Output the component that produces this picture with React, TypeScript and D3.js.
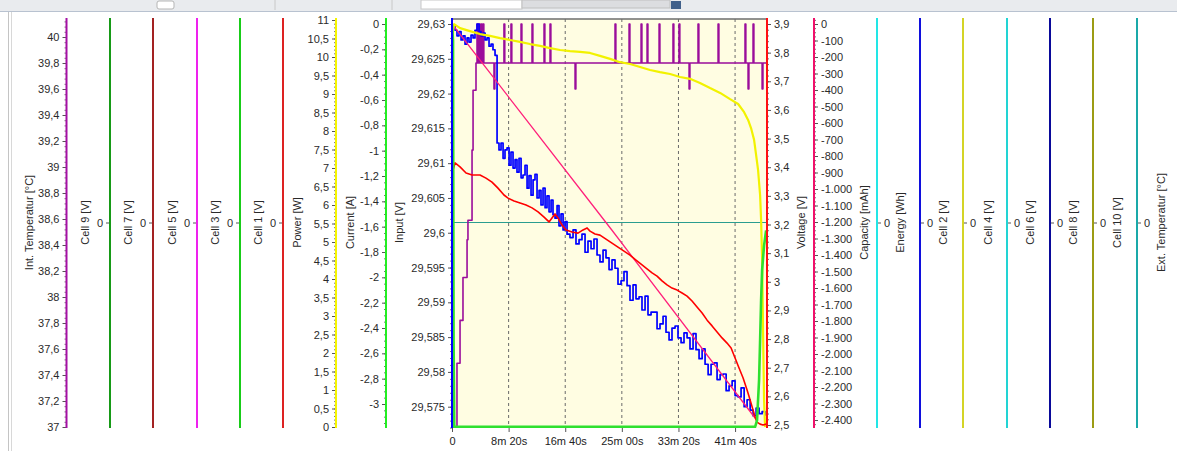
import {
    axisBottom,
    axisLeft,
    axisRight,
    curveStepAfter,
    curveLinear,
    formatLocale,
    line,
    range,
    scaleLinear,
    select,
} from "d3";
import React, { useEffect, useRef } from "react";

// time axis (seconds)
const timeTicks = [0, 500, 1000, 1500, 2000, 2500];
const timeLabels = ["0", "8m 20s", "16m 40s", "25m 00s", "33m 20s", "41m 40s"];

// tick values of the value axes
const tempTicks = [37, 37.2, 37.4, 37.6, 37.8, 38, 38.2, 38.4, 38.6, 38.8, 39, 39.2, 39.4, 39.6, 39.8, 40];
const powerTicks = [0, 0.5, 1, 1.5, 2, 2.5, 3, 3.5, 4, 4.5, 5, 5.5, 6, 6.5, 7, 7.5, 8, 8.5, 9, 9.5, 10, 10.5, 11];
const currentTicks = [0, -0.2, -0.4, -0.6, -0.8, -1, -1.2, -1.4, -1.6, -1.8, -2, -2.2, -2.4, -2.6, -2.8, -3];
const inputTicks = [29.575, 29.58, 29.585, 29.59, 29.595, 29.6, 29.605, 29.61, 29.615, 29.62, 29.625, 29.63];
const voltageTicks = [2.5, 2.6, 2.7, 2.8, 2.9, 3, 3.1, 3.2, 3.3, 3.4, 3.5, 3.6, 3.7, 3.8, 3.9];
const capacityTicks = [
    0, -100, -200, -300, -400, -500, -600, -700, -800, -900, -1000, -1100, -1200,
    -1300, -1400, -1500, -1600, -1700, -1800, -1900, -2000, -2100, -2200, -2300, -2400,
];
const zeroTicks = [0];

// Input [V] (blue)
const inputTime = [
    0, 9, 27, 44, 62, 80, 97, 115, 133, 150, 168, 186, 203, 221, 239, 256, 274, 292, 309, 327,
    345, 362, 380, 398, 415, 433, 451, 468, 486, 504, 521, 539, 557, 574, 592, 610, 627, 645, 663, 680,
    698, 716, 733, 751, 769, 786, 804, 822, 839, 857, 875, 892, 910, 928, 945, 963, 981, 998, 1016,
    1042, 1069, 1095, 1122, 1148, 1175, 1201, 1228, 1254, 1281, 1307, 1334, 1360, 1387, 1413, 1440, 1466,
    1493, 1519, 1546, 1572, 1599, 1625, 1652, 1678, 1705, 1731, 1758, 1784, 1811, 1837, 1864, 1890, 1917,
    1943, 1970, 1996, 2023, 2049, 2076, 2102, 2129, 2155, 2182, 2209, 2235, 2262, 2288, 2315, 2341, 2368,
    2394, 2421, 2447, 2474, 2500, 2527, 2553, 2580, 2606, 2633, 2659, 2686, 2712, 2739, 2765,
];
const inputVolts = [
    29.6297, 29.6297, 29.6291, 29.6283, 29.6289, 29.6277, 29.6283, 29.6271, 29.628, 29.6274,
    29.6284, 29.628, 29.6291, 29.63, 29.6289, 29.6283, 29.6287, 29.6277, 29.628, 29.6268,
    29.6271, 29.6263, 29.6255,
    29.6129, 29.6119, 29.6129, 29.6107, 29.6119, 29.6122, 29.6097, 29.6116, 29.6093, 29.6105,
    29.6087, 29.6107, 29.6079, 29.6083, 29.6097, 29.6064, 29.6082, 29.6054, 29.6076, 29.6084,
    29.605, 29.6061, 29.604, 29.6064, 29.6036, 29.6053, 29.603, 29.6047, 29.6026, 29.6021,
    29.6039, 29.601, 29.6027, 29.6004, 29.6016, 29.5998,
    29.5993, 29.6004, 29.5984, 29.599, 29.5998, 29.5972, 29.5988, 29.5977, 29.5991, 29.5968,
    29.5958, 29.5975, 29.5964, 29.5947, 29.5961, 29.5949, 29.5926, 29.5931, 29.5944, 29.5924,
    29.5903, 29.5925, 29.5905, 29.5908, 29.5889, 29.5909, 29.5882, 29.5886, 29.5886, 29.5862,
    29.5869, 29.588, 29.5857, 29.5846, 29.5863, 29.5866, 29.5849, 29.5842, 29.5856, 29.5849,
    29.5833, 29.5855, 29.5832, 29.5819, 29.5833, 29.5811, 29.5796, 29.5811, 29.5813, 29.5789,
    29.5796, 29.5797, 29.5773, 29.578, 29.5787, 29.5766, 29.5764, 29.5777, 29.575, 29.576,
    29.5745, 29.5737, 29.5748, 29.574, 29.5743, 29.5737,
];

// Voltage [V] (red)
const voltageTime = [
    9, 27, 71, 124, 177, 247, 300, 353, 406, 459, 495, 548, 601, 654, 707, 760, 813, 857, 883, 910,
    936, 972, 1007, 1060, 1113, 1157, 1193, 1219, 1263, 1307, 1360, 1413, 1466, 1519, 1572, 1625, 1670,
    1714, 1767, 1811, 1855, 1899, 1943, 1988, 2032, 2076, 2120, 2164, 2209, 2253, 2297, 2341, 2385,
    2429, 2465, 2500, 2535, 2571, 2606, 2633, 2659, 2677, 2694, 2721, 2747, 2774,
];
const voltageVals = [
    3.39, 3.415, 3.401, 3.38, 3.373, 3.373, 3.362, 3.348, 3.327, 3.303, 3.292, 3.282, 3.275, 3.268,
    3.258, 3.244, 3.226, 3.209, 3.223, 3.237, 3.223, 3.198, 3.181, 3.174, 3.17, 3.181, 3.188, 3.177,
    3.167, 3.163, 3.149, 3.135, 3.121, 3.107, 3.093, 3.076, 3.062, 3.048, 3.031, 3.02, 3.003, 2.989,
    2.978, 2.971, 2.961, 2.95, 2.933, 2.912, 2.891, 2.866, 2.846, 2.825, 2.804, 2.786, 2.769, 2.734,
    2.699, 2.664, 2.622, 2.587, 2.552, 2.528, 2.51, 2.503, 2.5, 2.503,
];

// Power [W] (yellow)
const powerTime = [
    0, 9, 18, 71, 159, 247, 336, 424, 512, 601, 689, 777, 866, 954, 1042, 1131, 1219, 1307, 1396, 1484,
    1572, 1661, 1749, 1837, 1926, 2014, 2102, 2190, 2279, 2368, 2456, 2527, 2580, 2615, 2641, 2668, 2686,
    2703, 2721, 2730, 2739, 2747, 2756, 2765,
];
const powerVals = [
    0, 10.73, 10.89, 10.78, 10.7, 10.62, 10.57, 10.51, 10.46, 10.41, 10.35, 10.3, 10.24, 10.19, 10.16,
    10.14, 10.11, 10.03, 9.95, 9.86, 9.81, 9.73, 9.65, 9.59, 9.54, 9.46, 9.41, 9.3, 9.16, 9.03, 8.86,
    8.73, 8.51, 8.3, 8.08, 7.76, 7.35, 6.95, 6.27, 5.59, 4.51, 2.62, 0.73, 0,
];

// Int. Temperatur [°C] (purple)
const tempTime = [
    0, 9, 44, 71, 97, 133, 141, 177, 186, 212,
    221, 228, 239, 246, 256, 263, 274, 281, 371, 378,
    459, 466, 521, 528, 610, 617, 707, 714, 813, 820,
    866, 873, 1087, 1094, 1440, 1447, 1564, 1571, 1670, 1677,
    1723, 1730, 1829, 1836, 1952, 1959, 2005, 2012, 2094, 2101,
    2173, 2180, 2350, 2357, 2588, 2595, 2615, 2622, 2659, 2666,
    2739, 2746, 2782,
];
const tempVals = [
    37, 37, 37.49, 37.82, 38.15, 38.44, 38.59, 39.13, 39.59, 39.8,
    40.1, 39.8, 40.1, 39.8, 40.1, 39.8, 40.1, 39.8, 39.6, 39.8,
    40.1, 39.8, 40.1, 39.8, 40.1, 39.8, 40.1, 39.8, 40.1, 39.8,
    40.1, 39.8, 39.6, 39.8, 40.1, 39.8, 40.1, 39.8, 40.1, 39.8,
    40.1, 39.8, 40.1, 39.8, 40.1, 39.8, 40.1, 39.8, 39.6, 39.8,
    40.1, 39.8, 40.1, 39.8, 40.1, 39.8, 39.6, 39.8, 40.1, 39.8,
    39.6, 39.8, 39.8,
];

// Current [A] (green)
const currentTime = [0, 9, 14, 20, 2677, 2694, 2712, 2721, 2730, 2739, 2756, 2774];
const currentVals = [0, -0.13, -2.5, -3.18, -3.18, -3.13, -2.81, -2.5, -2.18, -1.94, -1.75, -1.63];

// Capacity [mAh] (pink)
const capacityTime = [0, 1413, 2690];
const capacityVals = [0, -1250, -2400];

// Ext. Temperatur [°C] (teal)
const extTime = [0, 2782];
const extVals = [0, 0];

const FONT = "'Liberation Sans', Arial, sans-serif";
const TOP = 18;
const BOTTOM = 428;

const de = formatLocale({
    decimal: ",",
    thousands: ".",
    grouping: [3],
    currency: ["", " €"],
    minus: "-",
});
const fmt = de.format(",~f");

const Chart: React.FC = () => {
    const svgRef = useRef<SVGSVGElement>(null);

    useEffect(() => {
        const svg = select(svgRef.current);
        svg.selectAll("*").remove();

        const plot = { left: 452, right: 767, top: 19, bottom: 428 };

        // window chrome at the top
        svg.append("rect").attr("x", 0).attr("y", 0).attr("width", 1177).attr("height", 11).attr("fill", "#e9ebee");
        svg.append("rect").attr("x", 157).attr("y", 1).attr("width", 17).attr("height", 8).attr("rx", 2)
            .attr("fill", "#fff").attr("stroke", "#b5b5b5");
        svg.append("line").attr("x1", 275).attr("x2", 275).attr("y1", 0).attr("y2", 10).attr("stroke", "#c8c8c8");
        svg.append("line").attr("x1", 392).attr("x2", 392).attr("y1", 0).attr("y2", 10).attr("stroke", "#c8c8c8");
        svg.append("rect").attr("x", 421).attr("y", 0).attr("width", 101).attr("height", 9).attr("fill", "#fff")
            .attr("stroke", "#c8c8c8");
        svg.append("rect").attr("x", 522).attr("y", 0).attr("width", 148).attr("height", 8).attr("fill", "#dcdde0")
            .attr("stroke", "#c0c0c0");
        svg.append("rect").attr("x", 671).attr("y", 1).attr("width", 10).attr("height", 8).attr("fill", "#41608a");
        svg.append("line").attr("x1", 0).attr("x2", 1177).attr("y1", 11.5).attr("y2", 11.5).attr("stroke", "#b8c2d0");
        svg.append("line").attr("x1", 8.5).attr("x2", 8.5).attr("y1", 12).attr("y2", 451).attr("stroke", "#c4c4c4");
        svg.append("line").attr("x1", 11.5).attr("x2", 11.5).attr("y1", 12).attr("y2", 451).attr("stroke", "#d8d8d8");

        const x = scaleLinear().domain([0, 2782]).range([plot.left, plot.right]);

        const yTemp = scaleLinear().domain([37, 40]).range([427, 37]);
        const yPower = scaleLinear().domain([0, 11]).range([427, 20]);
        const yCurrent = scaleLinear().domain([-3, 0]).range([404, 24]);
        const yInput = scaleLinear().domain([29.575, 29.63]).range([406.7, 24]);
        const yVoltage = scaleLinear().domain([2.5, 3.9]).range([425, 24]);
        const yCapacity = scaleLinear().domain([-2400, 0]).range([420, 24]);
        const yZero = scaleLinear().domain([-1, 1]).range([427, 18]);

        // plot background
        svg.append("rect")
            .attr("x", plot.left).attr("y", plot.top)
            .attr("width", plot.right - plot.left).attr("height", plot.bottom - plot.top)
            .attr("fill", "#fffde2");

        svg.append("defs").append("clipPath").attr("id", "plotclip")
            .append("rect")
            .attr("x", plot.left).attr("y", plot.top)
            .attr("width", plot.right - plot.left).attr("height", plot.bottom - plot.top);

        // dashed time grid
        svg.append("g")
            .selectAll("line")
            .data(timeTicks.filter(t => t > 0))
            .enter()
            .append("line")
            .attr("x1", d => x(d)).attr("x2", d => x(d))
            .attr("y1", plot.top).attr("y2", plot.bottom)
            .attr("stroke", "#6a6a6a")
            .attr("stroke-dasharray", "3,3");

        svg.append("line")
            .attr("x1", plot.left).attr("x2", plot.right)
            .attr("y1", plot.top).attr("y2", plot.top)
            .attr("stroke", "#6d6d6d").attr("stroke-width", 1.5);

        const data = svg.append("g").attr("clip-path", "url(#plotclip)");

        const series = (
            times: number[],
            vals: number[],
            y: any,
            color: string,
            width: number,
            curve: any,
        ) => {
            const gen = line<number>()
                .x((_, i) => x(times[i]))
                .y(d => y(d))
                .curve(curve);
            data.append("path")
                .datum(vals)
                .attr("fill", "none")
                .attr("stroke", color)
                .attr("stroke-width", width)
                .attr("stroke-linejoin", "round")
                .attr("d", gen as any);
        };

        series(extTime, extVals, yZero, "#2a9d8f", 1.2, curveLinear);
        series(tempTime, tempVals, yTemp, "#9b0d9b", 1.6, curveStepAfter);
        series(inputTime, inputVolts, yInput, "#0000ff", 1.7, curveStepAfter);
        series(capacityTime, capacityVals, yCapacity, "#ff1f7a", 1.3, curveLinear);
        series(powerTime, powerVals, yPower, "#f2f200", 2.2, curveLinear);
        series(voltageTime, voltageVals, yVoltage, "#ff0000", 1.6, curveLinear);
        series(currentTime, currentVals, yCurrent, "#2fe02f", 2.6, curveLinear);

        // time axis
        svg.append("g")
            .attr("transform", `translate(0,${plot.bottom})`)
            .call(
                axisBottom(x)
                    .tickValues(timeTicks)
                    .tickSize(4)
                    .tickPadding(5)
                    .tickFormat((_, i) => timeLabels[i]),
            )
            .call(g => g.select(".domain").remove())
            .call(g => g.selectAll(".tick line").attr("stroke", "#555"))
            .call(g => g.selectAll(".tick text").attr("fill", "#222"))
            .attr("font-family", FONT)
            .attr("font-size", 11);

        const drawAxis = (
            ax: number,
            scale: any,
            side: "left" | "right",
            color: string,
            ticks: number[],
            minor: number[],
            title: string,
            titleX: number,
        ) => {
            const make = side === "left" ? axisLeft : axisRight;
            if (minor.length) {
                svg.append("g")
                    .attr("transform", `translate(${ax},0)`)
                    .call(make(scale).tickValues(minor).tickSize(2).tickFormat(() => ""))
                    .call(g => g.select(".domain").remove())
                    .call(g => g.selectAll(".tick line").attr("stroke", "#777"));
            }
            svg.append("g")
                .attr("transform", `translate(${ax},0)`)
                .call(make(scale).tickValues(ticks).tickSize(4).tickPadding(3).tickFormat(d => fmt(d as number)))
                .call(g => g.select(".domain").remove())
                .call(g => g.selectAll(".tick line").attr("stroke", "#555"))
                .call(g => g.selectAll(".tick text").attr("fill", "#2a2a2a"))
                .attr("font-family", FONT)
                .attr("font-size", 11);
            svg.append("line")
                .attr("x1", ax).attr("x2", ax)
                .attr("y1", TOP).attr("y2", BOTTOM)
                .attr("stroke", color)
                .attr("stroke-width", 2);
            svg.append("text")
                .attr("transform", `translate(${titleX},222.5) rotate(-90)`)
                .attr("text-anchor", "middle")
                .attr("dominant-baseline", "central")
                .attr("font-family", FONT)
                .attr("font-size", 11)
                .attr("fill", "#2a2a2a")
                .text(title);
        };

        const steps = (lo: number, hi: number, step: number) =>
            range(Math.round((hi - lo) / step) + 1).map(i => lo + i * step);

        // left axes
        drawAxis(66.5, yTemp, "left", "#a410a4", tempTicks, steps(37, 40.12, 0.04), "Int. Temperatur [°C]", 29);
        drawAxis(110, yZero, "left", "#179a17", zeroTicks, [], "Cell 9 [V]", 85);
        drawAxis(153, yZero, "left", "#a32222", zeroTicks, [], "Cell 7 [V]", 128);
        drawAxis(197, yZero, "left", "#ee22ee", zeroTicks, [], "Cell 5 [V]", 172);
        drawAxis(240, yZero, "left", "#19cc19", zeroTicks, [], "Cell 3 [V]", 215);
        drawAxis(283, yZero, "left", "#dd2222", zeroTicks, [], "Cell 1 [V]", 258);
        drawAxis(336, yPower, "left", "#f5f500", powerTicks, steps(0, 11, 0.1), "Power [W]", 297);
        drawAxis(386, yCurrent, "left", "#22ee22", currentTicks, steps(-3.15, 0, 0.05), "Current [A]", 350);
        drawAxis(452, yInput, "left", "#0000ff", inputTicks, steps(29.572, 29.63, 0.001), "Input [V]", 399);

        // right axes
        drawAxis(767, yVoltage, "right", "#ff1010", voltageTicks, steps(2.5, 3.9, 0.02), "Voltage [V]", 801);
        drawAxis(814, yCapacity, "right", "#f0106a", capacityTicks, steps(-2425, 25, 25), "Capacity [mAh]", 864);
        drawAxis(877, yZero, "right", "#22e6e6", zeroTicks, [], "Energy [Wh]", 900);
        drawAxis(920, yZero, "right", "#1010dd", zeroTicks, [], "Cell 2 [V]", 943);
        drawAxis(963, yZero, "right", "#d4d426", zeroTicks, [], "Cell 4 [V]", 988);
        drawAxis(1007, yZero, "right", "#22d4d4", zeroTicks, [], "Cell 6 [V]", 1030);
        drawAxis(1050, yZero, "right", "#0a0a9a", zeroTicks, [], "Cell 8 [V]", 1073);
        drawAxis(1093, yZero, "right", "#9c9c14", zeroTicks, [], "Cell 10 [V]", 1117);
        drawAxis(1137, yZero, "right", "#1aa9a9", zeroTicks, [], "Ext. Temperatur [°C]", 1161);
    }, []);

    return (
        <svg
            ref={svgRef}
            width={1177}
            height={451}
            style={{ position: "absolute", left: 0, top: 0, background: "#fff" }}
        ></svg>
    );
};

export default function App() {
    return <Chart />;
}
